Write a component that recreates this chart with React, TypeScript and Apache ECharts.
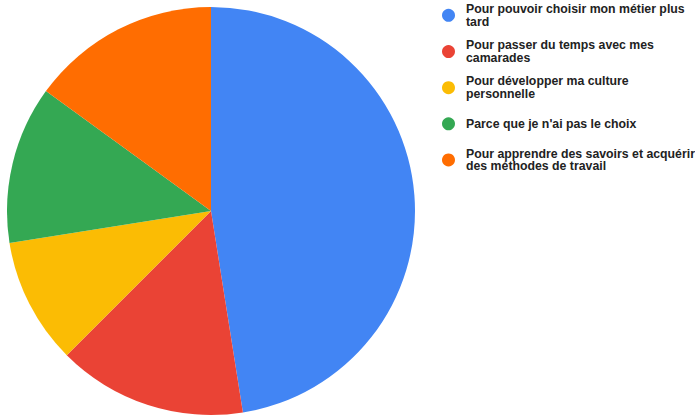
import React, { useEffect, useRef } from "react";
import * as echarts from "echarts";

const categories = [
  "Pour pouvoir choisir mon métier plus tard",
  "Pour passer du temps avec mes camarades",
  "Pour développer ma culture personnelle",
  "Parce que je n'ai pas le choix",
  "Pour apprendre des savoirs et acquérir des méthodes de travail",
];
const legendLabels = [
  "Pour pouvoir choisir mon métier plus\ntard",
  "Pour passer du temps avec mes\ncamarades",
  "Pour développer ma culture\npersonnelle",
  "Parce que je n'ai pas le choix",
  "Pour apprendre des savoirs et acquérir\ndes méthodes de travail",
];
const values = [19, 6, 4, 5, 6];
const colors = ["#4285F4", "#EA4335", "#FBBC04", "#34A853", "#FF6D01"];

export default function App() {
  const ref = useRef<HTMLDivElement>(null);
  useEffect(() => {
    if (!ref.current) return;
    const chart = echarts.init(ref.current, undefined, { renderer: "svg" });
    const labelMap: Record<string, string> = {};
    categories.forEach((c, i) => (labelMap[c] = legendLabels[i]));
    chart.setOption({
      animation: false,
      color: colors,
      legend: {
        orient: "vertical",
        left: 442,
        top: -3,
        padding: 0,
        itemGap: -0.6,
        itemWidth: 13,
        itemHeight: 13,
        icon: "circle",
        selectedMode: false,
        formatter: (name: string) => labelMap[name] || name,
        textStyle: {
          fontFamily: "Liberation Sans, Arial, sans-serif",
          fontWeight: "bold",
          fontSize: 12.3,
          lineHeight: 12.5,
          color: "#222222",
          backgroundColor: "rgba(0,0,0,0)",
        },
        data: categories.map((c, i) => ({
          name: c,
          textStyle: {
            padding: legendLabels[i].includes("\n") ? [11.75, 0, 0, 6] : [11.75, 0, 12.5, 6],
          },
        })),
      },
      series: [
        {
          type: "pie",
          center: [211, 211],
          radius: [0, 204],
          startAngle: 90,
          clockwise: true,
          label: { show: false },
          labelLine: { show: false },
          emphasis: { disabled: true },
          itemStyle: { borderWidth: 0 },
          data: categories.map((c, i) => ({ name: c, value: values[i] })),
        },
      ],
    });
    return () => chart.dispose();
  }, []);
  return (
    <div
      ref={ref}
      style={{ position: "fixed", left: 0, top: 0, width: 695, height: 417, background: "#fff" }}
    />
  );
}
